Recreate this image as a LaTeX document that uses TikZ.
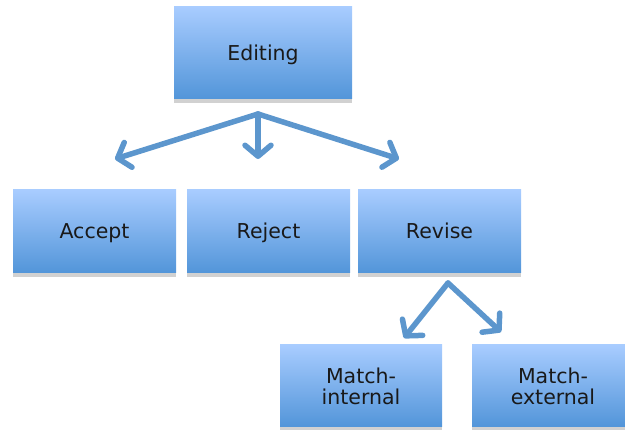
\documentclass[tikz,border=0pt]{standalone}
\usepackage{fontspec}
\setmainfont{DejaVu Sans}
\usetikzlibrary{arrows.meta,shadows}
\definecolor{boxtop}{RGB}{168,204,255}
\definecolor{boxbot}{RGB}{82,149,217}
\definecolor{arrowblue}{RGB}{92,150,205}
\tikzset{
  box/.style={rectangle, draw=none, top color=boxtop, bottom color=boxbot,
    minimum width=163pt, minimum height=83pt, inner sep=0pt, align=center,
    font=\fontsize{20.5}{21}\selectfont, text=black!90,
    drop shadow={shadow xshift=0pt, shadow yshift=-4pt, opacity=0.3, fill=black!60}},
  oneline/.style={text height=19pt, text depth=4pt},
  conn/.style={draw=arrowblue, line width=5.5pt, line cap=round, line join=round,
    -{Straight Barb[length=11pt,width=26pt,round]}},
}
\begin{document}
\begin{tikzpicture}[x=1pt,y=-1pt]
\useasboundingbox (0,0) rectangle (625,430);
\node[box, oneline, minimum width=178pt, minimum height=92pt] (edit) at (263,53) {Editing};
\node[box, oneline] (accept) at (94.5,231.5) {Accept};
\node[box, oneline] (reject) at (268.5,231.5) {Reject};
\node[box, oneline] (revise) at (439.5,231.5) {Revise};
\node[box, minimum width=162pt, minimum height=82pt] (mint) at (361,386) {Match-\\internal};
\node[box, minimum width=162pt, minimum height=82pt] (mext) at (553,386) {Match-\\external};
\coordinate (eo) at (258,114);
\coordinate (ta) at (115,159);
\coordinate (tr) at (258,159);
\coordinate (tv) at (399,159);
\coordinate (ro) at (448,283);
\coordinate (ti) at (404,338);
\coordinate (te) at (501,332);
\draw[conn] (eo) -- (ta);
\draw[conn] (eo) -- (tr);
\draw[conn] (eo) -- (tv);
\draw[conn] (ro) -- (ti);
\draw[conn] (ro) -- (te);
\end{tikzpicture}
\end{document}
